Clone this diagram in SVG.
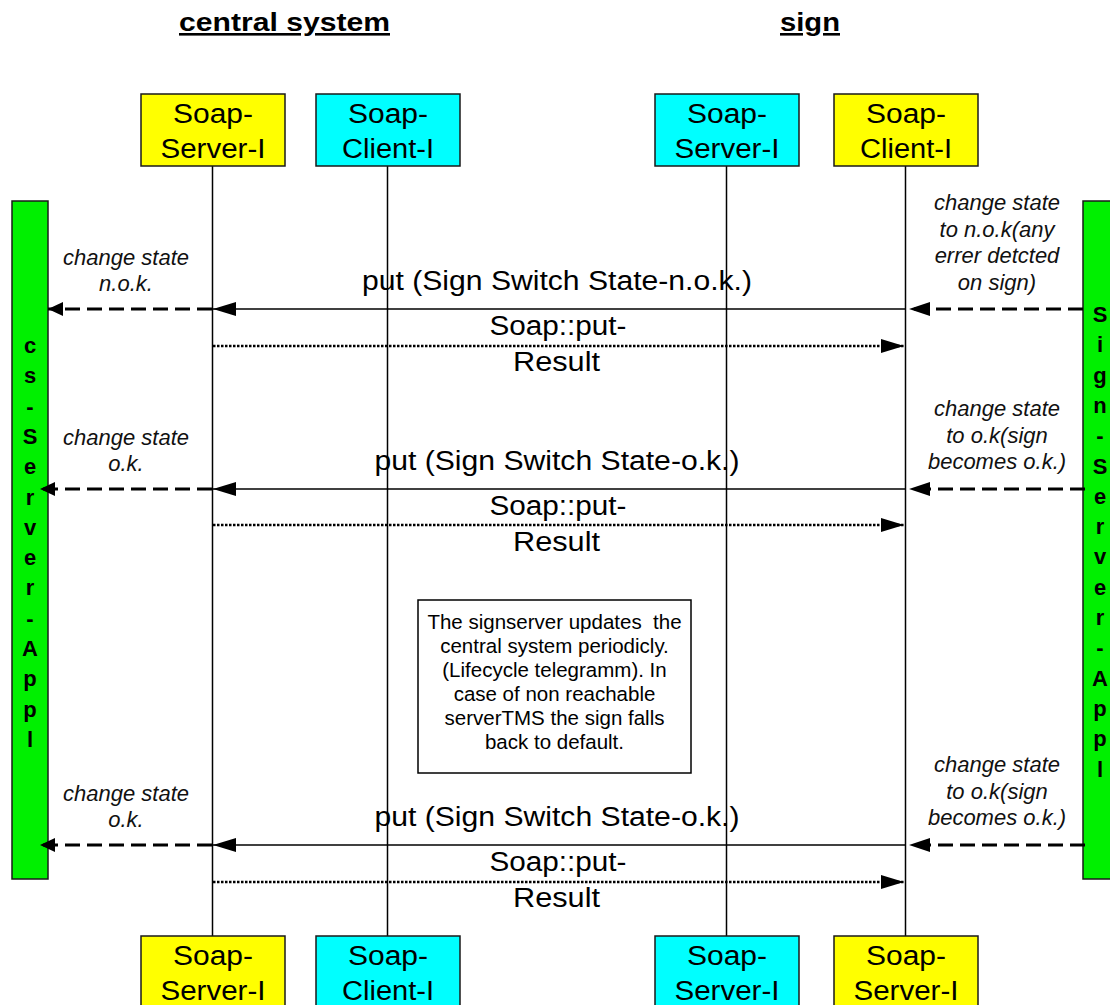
<svg xmlns="http://www.w3.org/2000/svg" width="1110" height="1005" viewBox="0 0 1110 1005">
  <style>
    .title { font-family: "Liberation Sans", Arial, sans-serif; font-size: 26px; font-weight: bold; text-decoration: underline; text-anchor: middle; fill: #000; }
    .box-y { fill: #ffff00; stroke: #1a1a1a; stroke-width: 1.5; }
    .box-c { fill: #00ffff; stroke: #1a1a1a; stroke-width: 1.5; }
    .bar { fill: #00f000; stroke: #1a1a1a; stroke-width: 1.5; }
    .note { fill: #fff; stroke: #000; stroke-width: 1.5; }
    .lbl { font-family: "Liberation Sans", Arial, sans-serif; font-size: 27px; text-anchor: middle; fill: #000; }
    .ital { font-family: "Liberation Sans", Arial, sans-serif; font-size: 22px; font-style: italic; text-anchor: middle; fill: #111; }
    .vert { font-family: "Liberation Sans", Arial, sans-serif; font-size: 22px; font-weight: bold; text-anchor: middle; fill: #000; }
    .notetxt { font-family: "Liberation Sans", Arial, sans-serif; font-size: 20.5px; text-anchor: middle; fill: #000; white-space: pre; }
    .life { stroke: #000; stroke-width: 1.5; fill: none; }
    .call { stroke: #000; stroke-width: 1.5; fill: none; marker-end: url(#headLong); }
    .result { stroke: #000; stroke-width: 2.5; stroke-dasharray: 2.5 1.5; fill: none; marker-end: url(#headLong); }
    .notifyL { stroke: #000; stroke-width: 3; stroke-dasharray: 15 7; fill: none; marker-end: url(#headShort); }
    .notifyR { stroke: #000; stroke-width: 3; stroke-dasharray: 15 7; fill: none; marker-end: url(#headMid); }
  </style>
  <defs>
    <marker id="headLong" markerUnits="userSpaceOnUse" markerWidth="24" markerHeight="16" refX="23" refY="8" orient="auto">
      <path d="M0,1 L23,8 L0,15 z" fill="#000"/>
    </marker>
    <marker id="headMid" markerUnits="userSpaceOnUse" markerWidth="22" markerHeight="16" refX="21" refY="8" orient="auto">
      <path d="M0,1 L21,8 L0,15 z" fill="#000"/>
    </marker>
    <marker id="headShort" markerUnits="userSpaceOnUse" markerWidth="16" markerHeight="16" refX="15" refY="8" orient="auto">
      <path d="M0,1 L15,8 L0,15 z" fill="#000"/>
    </marker>
  </defs>

  <rect width="1110" height="1005" fill="#fff"/>

  <!-- section titles -->
  <text class="title" x="284.5" y="31" textLength="211" lengthAdjust="spacingAndGlyphs">central system</text>
  <text class="title" x="810" y="31" textLength="60" lengthAdjust="spacingAndGlyphs">sign</text>

  <!-- lifelines -->
  <g id="lifelines">
    <line class="life" x1="212.5" y1="166" x2="212.5" y2="936"/>
    <line class="life" x1="387.5" y1="166" x2="387.5" y2="936"/>
    <line class="life" x1="726.5" y1="166" x2="726.5" y2="936"/>
    <line class="life" x1="905.5" y1="166" x2="905.5" y2="936"/>
  </g>

  <!-- application bars -->
  <g id="cs-server-appl">
    <rect class="bar" x="12" y="201" width="36" height="678"/>
    <text class="vert" x="30" y="353">c</text>
    <text class="vert" x="30" y="383.3">s</text>
    <text class="vert" x="30" y="413.6">-</text>
    <text class="vert" x="30" y="443.9">S</text>
    <text class="vert" x="30" y="474.2">e</text>
    <text class="vert" x="30" y="504.5">r</text>
    <text class="vert" x="30" y="534.8">v</text>
    <text class="vert" x="30" y="565.1">e</text>
    <text class="vert" x="30" y="595.4">r</text>
    <text class="vert" x="30" y="625.7">-</text>
    <text class="vert" x="30" y="656">A</text>
    <text class="vert" x="30" y="686.3">p</text>
    <text class="vert" x="30" y="716.6">p</text>
    <text class="vert" x="30" y="746.9">l</text>
  </g>
  <g id="sign-server-appl">
    <rect class="bar" x="1083" y="201" width="36" height="678"/>
    <text class="vert" x="1100" y="322">S</text>
    <text class="vert" x="1100" y="352.3">i</text>
    <text class="vert" x="1100" y="382.6">g</text>
    <text class="vert" x="1100" y="412.9">n</text>
    <text class="vert" x="1100" y="443.2">-</text>
    <text class="vert" x="1100" y="473.5">S</text>
    <text class="vert" x="1100" y="503.8">e</text>
    <text class="vert" x="1100" y="534.1">r</text>
    <text class="vert" x="1100" y="564.4">v</text>
    <text class="vert" x="1100" y="594.7">e</text>
    <text class="vert" x="1100" y="625">r</text>
    <text class="vert" x="1100" y="655.3">-</text>
    <text class="vert" x="1100" y="685.6">A</text>
    <text class="vert" x="1100" y="715.9">p</text>
    <text class="vert" x="1100" y="746.2">p</text>
    <text class="vert" x="1100" y="776.5">l</text>
  </g>

  <!-- participant heads -->
  <g id="cs-soap-server-top">
    <rect class="box-y" x="141" y="94" width="144" height="72"/>
    <text class="lbl" x="213" y="123" textLength="80" lengthAdjust="spacingAndGlyphs">Soap-</text>
    <text class="lbl" x="213" y="158" textLength="105" lengthAdjust="spacingAndGlyphs">Server-I</text>
  </g>
  <g id="cs-soap-client-top">
    <rect class="box-c" x="316" y="94" width="144" height="72"/>
    <text class="lbl" x="388" y="123" textLength="80" lengthAdjust="spacingAndGlyphs">Soap-</text>
    <text class="lbl" x="388" y="158" textLength="92" lengthAdjust="spacingAndGlyphs">Client-I</text>
  </g>
  <g id="sign-soap-server-top">
    <rect class="box-c" x="655" y="94" width="144" height="72"/>
    <text class="lbl" x="727" y="123" textLength="80" lengthAdjust="spacingAndGlyphs">Soap-</text>
    <text class="lbl" x="727" y="158" textLength="105" lengthAdjust="spacingAndGlyphs">Server-I</text>
  </g>
  <g id="sign-soap-client-top">
    <rect class="box-y" x="834" y="94" width="144" height="72"/>
    <text class="lbl" x="906" y="123" textLength="80" lengthAdjust="spacingAndGlyphs">Soap-</text>
    <text class="lbl" x="906" y="158" textLength="92" lengthAdjust="spacingAndGlyphs">Client-I</text>
  </g>

  <!-- participant feet -->
  <g id="cs-soap-server-bottom">
    <rect class="box-y" x="141" y="936" width="144" height="72"/>
    <text class="lbl" x="213" y="965" textLength="80" lengthAdjust="spacingAndGlyphs">Soap-</text>
    <text class="lbl" x="213" y="1000" textLength="105" lengthAdjust="spacingAndGlyphs">Server-I</text>
  </g>
  <g id="cs-soap-client-bottom">
    <rect class="box-c" x="316" y="936" width="144" height="72"/>
    <text class="lbl" x="388" y="965" textLength="80" lengthAdjust="spacingAndGlyphs">Soap-</text>
    <text class="lbl" x="388" y="1000" textLength="92" lengthAdjust="spacingAndGlyphs">Client-I</text>
  </g>
  <g id="sign-soap-server-bottom">
    <rect class="box-c" x="655" y="936" width="144" height="72"/>
    <text class="lbl" x="727" y="965" textLength="80" lengthAdjust="spacingAndGlyphs">Soap-</text>
    <text class="lbl" x="727" y="1000" textLength="105" lengthAdjust="spacingAndGlyphs">Server-I</text>
  </g>
  <g id="sign-soap-server-bottom-2">
    <rect class="box-y" x="834" y="936" width="144" height="72"/>
    <text class="lbl" x="906" y="965" textLength="80" lengthAdjust="spacingAndGlyphs">Soap-</text>
    <text class="lbl" x="906" y="1000" textLength="105" lengthAdjust="spacingAndGlyphs">Server-I</text>
  </g>

  <!-- lifecycle note -->
  <g id="lifecycle-note">
    <rect class="note" x="418" y="600" width="273" height="173"/>
    <text class="notetxt" x="554.5" y="629">The signserver updates  the</text>
    <text class="notetxt" x="554.5" y="653">central system periodicly.</text>
    <text class="notetxt" x="554.5" y="677">(Lifecycle telegramm). In</text>
    <text class="notetxt" x="554.5" y="701">case of non reachable</text>
    <text class="notetxt" x="554.5" y="725">serverTMS the sign falls</text>
    <text class="notetxt" x="554.5" y="749">back to default.</text>
  </g>

  <!-- messages -->
  <g id="connectors">
    <!-- exchange 1: n.o.k. -->
    <line class="notifyR" x1="1083" y1="309" x2="909" y2="309"/>
    <line class="call" x1="905.5" y1="309" x2="213" y2="309"/>
    <line class="notifyL" x1="212" y1="309" x2="48" y2="309"/>
    <line class="result" x1="213" y1="346" x2="904" y2="346"/>

    <!-- exchange 2: o.k. -->
    <line class="notifyR" x1="1085" y1="489" x2="909" y2="489"/>
    <line class="call" x1="905.5" y1="489" x2="213" y2="489"/>
    <line class="notifyL" x1="212" y1="489" x2="40" y2="489"/>
    <line class="result" x1="213" y1="525" x2="904" y2="525"/>

    <!-- exchange 3: o.k. -->
    <line class="notifyR" x1="1085" y1="845" x2="909" y2="845"/>
    <line class="call" x1="905.5" y1="845" x2="213" y2="845"/>
    <line class="notifyL" x1="212" y1="845" x2="40" y2="845"/>
    <line class="result" x1="213" y1="882" x2="904" y2="882"/>
  </g>

  <!-- message labels -->
  <g id="labels">
    <text class="lbl" x="557" y="290" textLength="390" lengthAdjust="spacingAndGlyphs">put (Sign Switch State-n.o.k.)</text>
    <text class="lbl" x="558" y="335" textLength="137" lengthAdjust="spacingAndGlyphs">Soap::put-</text>
    <text class="lbl" x="556.5" y="371" textLength="87" lengthAdjust="spacingAndGlyphs">Result</text>

    <text class="lbl" x="557" y="470" textLength="365" lengthAdjust="spacingAndGlyphs">put (Sign Switch State-o.k.)</text>
    <text class="lbl" x="558" y="515" textLength="137" lengthAdjust="spacingAndGlyphs">Soap::put-</text>
    <text class="lbl" x="556.5" y="551" textLength="87" lengthAdjust="spacingAndGlyphs">Result</text>

    <text class="lbl" x="557" y="826" textLength="365" lengthAdjust="spacingAndGlyphs">put (Sign Switch State-o.k.)</text>
    <text class="lbl" x="558" y="871" textLength="137" lengthAdjust="spacingAndGlyphs">Soap::put-</text>
    <text class="lbl" x="556.5" y="907" textLength="87" lengthAdjust="spacingAndGlyphs">Result</text>

    <text class="ital" x="126" y="265">change state</text>
    <text class="ital" x="126" y="291">n.o.k.</text>
    <text class="ital" x="126" y="445">change state</text>
    <text class="ital" x="126" y="471">o.k.</text>
    <text class="ital" x="126" y="801">change state</text>
    <text class="ital" x="126" y="827">o.k.</text>

    <text class="ital" x="997" y="210">change state</text>
    <text class="ital" x="997" y="236.5">to n.o.k(any</text>
    <text class="ital" x="997" y="263">errer detcted</text>
    <text class="ital" x="997" y="289.5">on sign)</text>

    <text class="ital" x="997" y="416">change state</text>
    <text class="ital" x="997" y="443">to o.k(sign</text>
    <text class="ital" x="997" y="469">becomes o.k.)</text>

    <text class="ital" x="997" y="772">change state</text>
    <text class="ital" x="997" y="799">to o.k(sign</text>
    <text class="ital" x="997" y="825">becomes o.k.)</text>
  </g>
</svg>
